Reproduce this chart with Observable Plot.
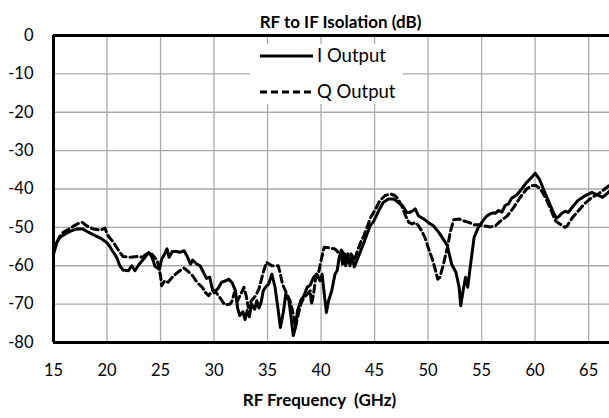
<!DOCTYPE html>
<html>
<head>
<meta charset="utf-8">
<script src="https://cdn.jsdelivr.net/npm/d3@7"></script>
<script src="https://cdn.jsdelivr.net/npm/@observablehq/plot@0.6"></script>
<style>
  html, body { margin: 0; padding: 0; background: #fff; }
  #chart svg { display: block; }
</style>
</head>
<body>
<div id="chart"></div>
<script>
const chartTitle = "RF to IF Isolation (dB)";
const xTitle = "RF Frequency  (GHz)";
const seriesNames = ["I Output", "Q Output"];
const xTicks = [15, 20, 25, 30, 35, 40, 45, 50, 55, 60, 65];
const yTicks = [0, -10, -20, -30, -40, -50, -60, -70, -80];

const iFreq = [15.0,15.3,15.6,16.1,16.6,17.2,17.7,18.1,18.7,19.4,19.8,20.1,20.5,20.9,21.2,21.5,22.0,22.3,22.6,23.0,23.4,23.9,24.2,24.5,24.9,25.1,25.3,25.6,25.8,26.1,26.5,26.8,27.2,27.5,27.8,28.0,28.4,28.7,29.0,29.3,29.6,29.8,30.0,30.4,30.7,31.1,31.4,31.7,32.0,32.2,32.4,32.7,32.9,33.1,33.3,33.5,33.8,34.0,34.2,34.4,34.6,34.8,35.1,35.4,35.7,36.0,36.2,36.5,36.7,37.0,37.2,37.4,37.6,37.8,38.1,38.4,38.7,39.0,39.3,39.6,39.9,40.1,40.3,40.5,40.7,41.0,41.3,41.5,41.7,41.9,42.0,42.2,42.3,42.5,42.7,42.9,43.1,43.4,43.7,44.0,44.3,44.6,44.9,45.4,45.8,46.3,46.8,47.2,47.6,47.9,48.0,48.3,48.6,48.8,49.1,49.6,50.0,50.5,51.0,51.4,51.8,52.2,52.6,52.9,53.05,53.3,53.5,53.7,54.0,54.3,54.7,55.2,55.5,55.8,56.1,56.3,56.6,56.9,57.2,57.5,57.8,58.3,58.8,59.2,59.7,60.0,60.4,60.8,61.3,61.7,62.0,62.2,62.5,62.8,63.1,63.6,64.0,64.7,65.3,65.8,66.3,66.8,67.0];
const iValues = [-57,-54,-52.6,-51.7,-51.0,-50.4,-50.4,-51.0,-51.9,-52.8,-53.6,-54.3,-56.1,-57.8,-60.0,-61.1,-61.3,-60.0,-61.3,-59.6,-58.3,-56.5,-57.8,-60.2,-60.9,-58.3,-57.4,-55.6,-57.8,-56.3,-56.3,-56.5,-56.1,-57.6,-59.6,-58.5,-59.6,-60.0,-61.7,-63.3,-63.0,-65.6,-67.0,-65.8,-64.3,-63.9,-63.5,-64.5,-66.5,-71.0,-73.0,-72.0,-74.0,-71.7,-73.3,-70.0,-71.3,-69.1,-71.0,-69.5,-66.5,-65.6,-64.8,-62.2,-65.6,-71.7,-76.1,-71.7,-67.4,-69.1,-73.5,-78.2,-76.1,-71.7,-69.1,-67.8,-65.6,-65.0,-63.0,-62.2,-63.9,-62.2,-67.4,-72.2,-69.1,-66.5,-62.2,-61.3,-57.8,-56.1,-59.6,-56.9,-60.0,-56.9,-60.0,-57.4,-60.3,-58.3,-56.1,-54.0,-51.7,-49.5,-48.5,-45.6,-43.5,-42.6,-42.6,-43.5,-44.3,-45.6,-46.1,-46.1,-45.6,-45.2,-47.0,-47.8,-48.7,-49.6,-51.3,-53.0,-54.8,-59.6,-61.7,-65.6,-70.4,-66.0,-63.0,-65.6,-59.0,-52.6,-50.0,-48.0,-47.0,-46.5,-46.2,-46.3,-45.6,-46.0,-44.3,-43.9,-42.4,-41.5,-39.8,-38.3,-36.9,-35.9,-37.4,-40.2,-43.5,-46.1,-47.6,-47.2,-46.3,-45.8,-46.1,-44.3,-43.0,-41.7,-40.9,-41.5,-42.2,-41.0,-40.5];

const qFreq = [15.0,15.3,15.6,15.9,16.4,16.9,17.3,17.7,18.1,18.7,19.4,19.8,20.1,20.6,21.1,21.5,22.2,22.8,23.3,23.7,24.2,24.7,25.0,25.1,25.4,25.7,26.1,26.4,26.8,27.2,27.6,28.0,28.4,28.9,29.2,29.5,29.9,30.2,30.6,31.0,31.5,31.7,31.9,32.2,32.5,32.8,33.0,33.2,33.5,33.9,34.2,34.4,34.6,34.9,35.4,36.0,36.2,36.4,36.8,37.1,37.4,37.6,37.8,38.1,38.4,38.7,39.0,39.1,39.3,39.5,39.7,40.0,40.2,40.3,40.9,41.3,41.6,41.9,42.3,42.5,42.8,43.1,43.4,43.7,44.0,44.3,44.6,45.1,45.5,46.0,46.5,46.9,47.2,47.6,47.9,48.2,48.5,48.8,49.1,49.4,49.7,50.0,50.4,50.7,50.9,51.1,51.4,51.8,52.1,52.4,52.9,53.3,53.8,54.3,54.8,55.2,55.8,56.3,56.7,57.4,58.0,58.6,59.2,59.7,60.1,60.5,61.0,61.5,61.9,62.3,62.8,63.0,63.5,64.0,64.6,65.3,65.9,66.5,67.0];
const qValues = [-56.5,-54,-52.3,-51.3,-50.5,-49.6,-49.0,-48.7,-49.6,-50.4,-50.7,-50.2,-52.2,-53.9,-56.1,-57.6,-57.8,-57.6,-57.8,-56.9,-57.0,-58.7,-62.6,-65.2,-63.9,-64.3,-63.0,-62.2,-61.3,-60.6,-61.5,-62.6,-64.3,-65.6,-67.0,-67.8,-66.3,-67.0,-68.5,-70.2,-70.0,-69.1,-67.0,-69.1,-67.4,-65.6,-67.8,-70.9,-69.1,-67.8,-66.0,-63.9,-61.7,-59.1,-60.0,-60.0,-62.2,-64.8,-67.4,-69.1,-72.6,-76.1,-73.5,-70.0,-68.3,-67.4,-66.5,-70.0,-67.4,-63.0,-62.6,-58.7,-56.1,-55.2,-55.4,-55.6,-56.5,-55.9,-57.8,-59.1,-56.9,-58.7,-56.1,-53.9,-52.2,-50.0,-47.6,-45.2,-43.0,-41.7,-41.3,-41.7,-42.6,-44.8,-47.0,-48.7,-49.1,-48.7,-49.6,-50.9,-52.6,-55.2,-58.3,-61.3,-63.5,-63.0,-60.0,-55.2,-50.9,-48.0,-47.8,-48.3,-48.7,-49.3,-49.3,-49.6,-49.9,-49.6,-48.5,-47.0,-44.8,-42.2,-40.0,-39.1,-39.1,-40.0,-42.4,-45.6,-48.3,-49.1,-50.0,-49.6,-47.4,-45.8,-43.9,-42.2,-41.3,-40.0,-38.9];

const iData = iFreq.map((f, k) => ({f, v: iValues[k]}));
const qData = qFreq.map((f, k) => ({f, v: qValues[k]}));

const gridStyle = {stroke: "#a9a9a9", strokeOpacity: 1, strokeWidth: 1.3};
const plainNumber = d => String(d);

const chart = Plot.plot({
  width: 609,
  height: 418,
  marginLeft: 53,
  marginRight: 0,
  marginTop: 35,
  marginBottom: 76,
  style: {fontFamily: "Lato, 'Open Sans', sans-serif", fontSize: "16.5px", color: "#000", background: "#fff"},
  x: {domain: [15, 66.95]},
  y: {domain: [-80, 0]},
  marks: [
    Plot.gridX(xTicks.slice(1), gridStyle),
    Plot.gridY(yTicks.slice(1, -1), gridStyle),
    Plot.axisX(xTicks, {tickSize: 0, tickPadding: 22, label: null, fontSize: 16.5, tickFormat: plainNumber}),
    Plot.axisY(yTicks, {tickSize: 0, tickPadding: 20, label: null, fontSize: 16.5, tickFormat: plainNumber}),
    Plot.line(iData, {x: "f", y: "v", stroke: "#000", strokeWidth: 3, strokeLinejoin: "round"}),
    Plot.line(qData, {x: "f", y: "v", stroke: "#000", strokeWidth: 3, strokeDasharray: "7,4"}),
    Plot.ruleY([0, -80], {stroke: "#000", strokeWidth: 3}),
    Plot.ruleX([15], {stroke: "#000", strokeWidth: 3}),
    Plot.text([chartTitle], {frameAnchor: "top", dy: -20, dx: 9, fontWeight: "bold", fontSize: 17}),
    Plot.text([xTitle], {frameAnchor: "bottom", dy: 63, dx: -12, fontWeight: "bold", fontSize: 17})
  ]
});

// Legend drawn inside the plot area (white box hides the grid behind it)
const svg = d3.select(chart);
const legend = svg.insert("g", "g[aria-label='rule']").attr("class", "legend");
legend.append("rect").attr("x", 250).attr("y", 44).attr("width", 153).attr("height", 60).attr("fill", "#fff");
const entries = [
  {name: seriesNames[0], y: 56, dash: null},
  {name: seriesNames[1], y: 92, dash: "7,4"}
];
entries.forEach(e => {
  legend.append("line").attr("x1", 260).attr("x2", 313).attr("y1", e.y).attr("y2", e.y)
    .attr("stroke", "#000").attr("stroke-width", 3).attr("stroke-dasharray", e.dash);
  legend.append("text").attr("x", 317).attr("y", e.y).attr("dy", "0.35em")
    .attr("text-anchor", "start").attr("font-size", 18.5).attr("fill", "#000").text(e.name);
});

document.getElementById("chart").appendChild(chart);
</script>
</body>
</html>
